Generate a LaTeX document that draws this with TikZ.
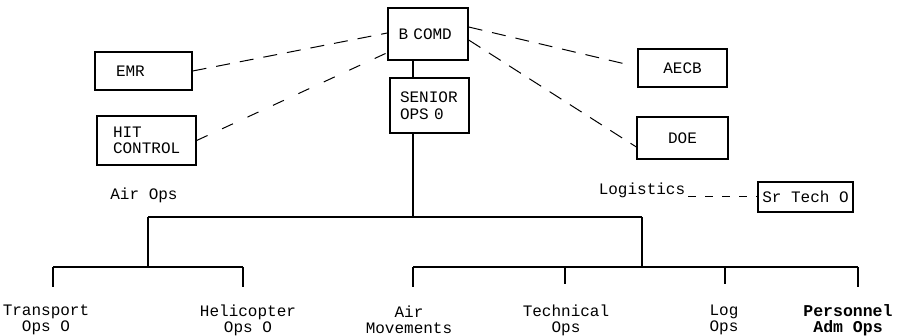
\documentclass[tikz,border=0pt]{standalone}
\usepackage{fontspec}
\setmainfont{Liberation Mono}
\usetikzlibrary{calc}
\begin{document}
\begin{tikzpicture}[x=1pt,y=-1pt,
  font=\fontsize{16}{16.5}\selectfont,
  box/.style={draw, line width=1.3pt, inner sep=0pt},
  tree/.style={line width=1.1pt},
  dline/.style={line width=1pt, dash pattern=on 14pt off 10pt},
  leaf/.style={align=center, inner sep=0pt, font=\fontsize{16}{16}\selectfont}]
\useasboundingbox (0,0) rectangle (898,336);
% boxes
\node[box, minimum width=80pt, minimum height=52pt, text width=59pt, align=left] (bcomd) at (428,34) {B COMD};
\node[box, minimum width=79pt, minimum height=55pt, text width=59pt, align=left] (senior) at (429.5,105.5) {SENIOR\\OPS 0};
\node[box, minimum width=97pt, minimum height=38pt, text width=55pt, align=left] (emr) at (143.5,71) {EMR};
\node[box, minimum width=99pt, minimum height=49pt, text width=67pt, align=left] (hit) at (146.5,140.5) {HIT\\CONTROL};
\node[box, minimum width=89pt, minimum height=38pt, align=center] (aecb) at (682.5,68) {AECB};
\node[box, minimum width=91pt, minimum height=42pt, align=center] (doe) at (682.5,138) {DOE};
\node[box, line width=2pt, minimum width=95pt, minimum height=30pt, align=center] (srtech) at (805.5,197) {Sr Tech O};
% dashed links
\draw[dline] (emr.east) -- ([yshift=1pt]bcomd.west);
\draw[dline, dash pattern=on 12pt off 16pt] (hit.east) -- ([yshift=8pt]bcomd.south west);
\draw[dline] ([yshift=7pt]bcomd.east) -- ([xshift=-12pt,yshift=4pt]aecb.west);
\draw[dline] ([yshift=-6pt]bcomd.east) -- ([yshift=-9pt]doe.west);
% labels
\node[inner sep=0pt] (airops) at (144,195) {Air Ops};
\node[inner sep=0pt] (logistics) at (642,190) {Logistics};
\draw[line width=1pt, dash pattern=on 8pt off 9pt] ([xshift=3pt]logistics.east |- srtech.west) -- (srtech.west);
% tree
\coordinate (trunk) at (413,217);
\coordinate (airj) at (148,217);
\coordinate (logj) at (642,217);
\coordinate (airb) at (148,267);
\coordinate (logb) at (642,267);
\coordinate (lbL) at (53,267);
\coordinate (lbR) at (243,267);
\coordinate (rbL) at (413,267);
\coordinate (rbR) at (858,267);
\coordinate (k1) at (53,287);
\coordinate (k2) at (243,287);
\coordinate (k3) at (413,287);
\coordinate (k4) at (565,284);
\coordinate (k5) at (725,284);
\coordinate (k6) at (858,287);
\draw[tree] (bcomd.south -| trunk) -- (senior.north -| trunk);
\draw[tree] (senior.south -| trunk) -- (trunk);
\draw[tree] (airj) -- (logj);
\draw[tree] (airj) -- (airb);
\draw[tree] (logj) -- (logb);
\draw[tree] (lbL) -- (lbR);
\draw[tree] (rbL) -- (rbR);
\foreach \k/\b in {k1/lbL,k2/lbL,k3/rbL,k4/rbL,k5/rbL,k6/rbL}
  \draw[tree] (\k |- \b) -- (\k);
% leaves
\node[leaf] (transport) at (46,320) {Transport\\Ops O};
\node[leaf] (heli) at (248,320) {Helicopter\\Ops O};
\node[leaf] (airmov) at (409,320) {Air\\Movements};
\node[leaf] (tech) at (566,320) {Technical\\Ops};
\node[leaf] (logops) at (724,320) {Log\\Ops};
\node[leaf, font=\fontsize{16.5}{16}\selectfont\bfseries] (pers) at (848,320) {Personnel\\Adm Ops};
\end{tikzpicture}
\end{document}
